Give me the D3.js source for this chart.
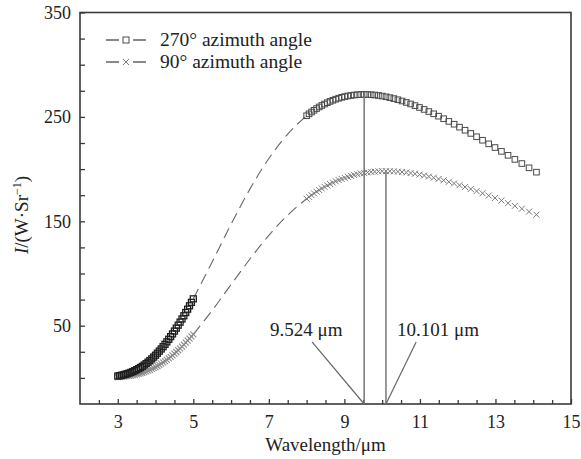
<!DOCTYPE html>
<html><head><meta charset="utf-8">
<script src="https://cdn.jsdelivr.net/npm/d3@7"></script>
<style>
body{margin:0;background:#fff}
svg{display:block}
text{font-family:"Liberation Serif","Times New Roman",serif;fill:#222}
</style>
</head><body>
<svg id="c" width="581" height="459"></svg>
<script>
// ---------- data ----------
const wlShort = [3.00,3.05,3.10,3.15,3.20,3.25,3.30,3.35,3.40,3.45,3.50,3.55,3.60,3.65,3.70,3.75,3.80,3.85,3.90,3.95,4.00,4.05,4.10,4.15,4.20,4.25,4.30,4.35,4.40,4.45,4.50,4.55,4.60,4.65,4.70,4.75,4.80,4.85,4.90,4.95,5.00];
const i270Short = [1.78,2.12,2.51,2.96,3.45,4.01,4.63,5.32,6.08,6.92,7.83,8.82,9.90,11.06,12.31,13.65,15.08,16.60,18.22,19.93,21.73,23.63,25.63,27.72,29.90,32.17,34.53,36.98,39.52,42.15,44.86,47.65,50.50,53.44,56.44,59.51,62.64,65.83,69.08,72.39,75.74];
const i90Short = [0.67,0.81,0.98,1.16,1.38,1.63,1.90,2.21,2.56,2.95,3.38,3.85,4.37,4.93,5.55,6.22,6.94,7.71,8.55,9.44,10.39,11.39,12.46,13.59,14.78,16.04,17.35,18.73,20.16,21.65,23.21,24.82,26.49,28.23,30.01,31.84,33.73,35.67,37.65,39.69,41.77];

const wlGap = [5.5,6.0,6.5,7.0,7.5];
const i270Gap = [111.1,147.2,181.0,210.1,233.6];
const i90Gap = [64.6,89.4,113.9,136.5,155.9];

const wlLong = [8.000,8.065,8.130,8.197,8.264,8.333,8.403,8.475,8.547,8.621,8.696,8.772,8.850,8.929,9.009,9.091,9.174,9.259,9.346,9.434,9.524,9.615,9.709,9.804,9.901,10.000,10.101,10.204,10.309,10.417,10.526,10.638,10.753,10.870,10.989,11.111,11.236,11.364,11.494,11.628,11.765,11.905,12.048,12.195,12.346,12.500,12.658,12.821,12.987,13.158,13.333,13.514,13.699,13.889,14.085];
const i270Long = [251.09,252.92,254.68,256.36,257.98,259.52,260.98,262.35,263.64,264.85,265.96,266.98,267.90,268.73,269.45,270.06,270.57,270.97,271.26,271.44,271.50,271.43,271.25,270.95,270.51,269.96,269.27,268.46,267.51,266.44,265.22,263.88,262.40,260.79,259.04,257.15,255.13,252.97,250.69,248.26,245.70,243.01,240.19,237.24,234.17,230.97,227.65,224.21,220.65,216.98,213.20,209.31,205.33,201.24,197.06];
const i90Long = [171.62,173.37,175.07,176.73,178.35,179.92,181.45,182.92,184.34,185.70,187.01,188.26,189.44,190.56,191.61,192.59,193.50,194.33,195.08,195.76,196.35,196.86,197.27,197.60,197.83,197.98,198.03,197.98,197.83,197.58,197.23,196.77,196.21,195.54,194.76,193.87,192.87,191.77,190.55,189.23,187.79,186.24,184.58,182.81,180.92,178.93,176.84,174.63,172.32,169.91,167.39,164.78,162.07,159.26,156.37];

const seriesNames = ["270\u00b0 azimuth angle", "90\u00b0 azimuth angle"];
const xTicks = [3,5,7,9,11,13,15];
const xMinor = [2.5,3.5,4,4.5,5.5,6,6.5,7.5,8,8.5,9.5,10,10.5,11.5,12,12.5,13.5,14,14.5];
const yTicks = [50,150,250,350];
const yMinor = [0,25,75,100,125,175,200,225,275,300,325];
const peakLabels = ["9.524 \u03bcm", "10.101 \u03bcm"];

// ---------- layout ----------
const L=80, R=571, T=12.5, B=404;
const x = d3.scaleLinear().domain([2,15]).range([L,R]);
const y = d3.scaleLinear().domain([-25,350]).range([B,T]);
const svg = d3.select('#c');
const axisCol = '#3a3a3a';

function styleAxis(g){
  g.select('.domain').remove();
  g.selectAll('.tick line').attr('stroke',axisCol).attr('stroke-width',1.3);
  g.selectAll('text').attr('font-size',18).attr('fill','#222')
   .attr('font-family','"Liberation Serif","Times New Roman",serif');
}
svg.append('g').attr('transform',`translate(0,${B})`)
  .call(d3.axisBottom(x).tickValues(xMinor).tickSize(-4).tickFormat('')).call(styleAxis);
svg.append('g').attr('transform',`translate(0,${B})`)
  .call(d3.axisBottom(x).tickValues(xTicks).tickSize(-5).tickPadding(11).tickFormat(d3.format('d'))).call(styleAxis);
svg.append('g').attr('transform',`translate(${L},0)`)
  .call(d3.axisLeft(y).tickValues(yMinor).tickSize(-5).tickFormat('')).call(styleAxis);
svg.append('g').attr('transform',`translate(${L},0)`)
  .call(d3.axisLeft(y).tickValues(yTicks).tickSize(-5).tickPadding(9).tickFormat(d3.format('d'))).call(styleAxis);

svg.append('rect').attr('x',L).attr('y',T).attr('width',R-L).attr('height',B-T)
  .attr('fill','none').attr('stroke',axisCol).attr('stroke-width',1.6);

svg.append('text').attr('x',(L+R)/2).attr('y',451).attr('text-anchor','middle')
  .attr('font-size',19).text('Wavelength/\u03bcm');
const yt = svg.append('text').attr('transform','translate(28,215) rotate(-90)')
  .attr('text-anchor','middle').attr('font-size',19);
yt.append('tspan').attr('font-style','italic').text('I');
yt.append('tspan').text('/(W\u00b7Sr');
yt.append('tspan').attr('font-size',12).attr('dy',-7).text('\u22121');
yt.append('tspan').attr('dy',7).text(')');

const series = [
  {short:i270Short, gap:i270Gap, long:i270Long, kind:'square', col:'#4a4a4a', colShort:'#1e1e1e', wShort:1.3},
  {short:i90Short,  gap:i90Gap,  long:i90Long,  kind:'cross',  col:'#7a7a7a', colShort:'#8a8a8a', wShort:1.1}
];
const lineGen = d3.line().x(d=>x(d[0])).y(d=>y(d[1])).curve(d3.curveMonotoneX);

series.forEach(s=>{
  const pts = [[wlShort[wlShort.length-1], s.short[s.short.length-1]]]
    .concat(wlGap.map((w,i)=>[w,s.gap[i]]))
    .concat([[wlLong[0], s.long[0]]]);
  svg.append('path').datum(pts).attr('d',lineGen)
    .attr('fill','none').attr('stroke','#666').attr('stroke-width',1.1)
    .attr('stroke-dasharray','11,6');
});

function drawMarkers(g, xs, ys, kind, col, sw, sz){
  const data = xs.map((w,i)=>[w,ys[i]]);
  if(kind==='square'){
    g.selectAll(null).data(data).join('rect')
      .attr('x',d=>x(d[0])-sz/2).attr('y',d=>y(d[1])-sz/2)
      .attr('width',sz).attr('height',sz)
      .attr('fill','none').attr('stroke',col).attr('stroke-width',sw);
  } else {
    g.selectAll(null).data(data).join('path')
      .attr('d',d=>{const cx=x(d[0]),cy=y(d[1]),r=sz/2;
        return `M${cx-r},${cy-r}L${cx+r},${cy+r}M${cx-r},${cy+r}L${cx+r},${cy-r}`;})
      .attr('fill','none').attr('stroke',col).attr('stroke-width',sw);
  }
}

const peaks = series.map(s=>{const k=d3.maxIndex(s.long); return [wlLong[k], s.long[k]];});

// 90° below, 270° on top
[series[1], series[0]].forEach(s=>{
  const g = svg.append('g');
  drawMarkers(g, wlShort, s.short, s.kind, s.colShort, s.wShort, 6);
  drawMarkers(g, wlLong, s.long, s.kind, s.col, 1, s.kind==='square'?5.6:6);
});

peaks.forEach(p=>{
  svg.append('line').attr('x1',x(p[0])).attr('x2',x(p[0]))
    .attr('y1',y(-25)).attr('y2',y(p[1]))
    .attr('stroke','#777').attr('stroke-width',1.5);
});

const annText = [[270,336],[397,336]];
const annFrom = [[8.143,34.4],[10.90,34.4]];
peaks.forEach((p,i)=>{
  svg.append('line').attr('x1',x(annFrom[i][0])).attr('y1',y(annFrom[i][1]))
    .attr('x2',x(p[0])).attr('y2',y(-25))
    .attr('stroke','#666').attr('stroke-width',1.2);
  svg.append('text').attr('x',annText[i][0]).attr('y',annText[i][1])
    .attr('font-size',19).text(peakLabels[i]);
});

const leg = svg.append('g');
[[40,46],[62,68]].forEach((r,i)=>{
  const s = series[i];
  leg.append('line').attr('x1',106).attr('x2',119).attr('y1',r[0]).attr('y2',r[0]).attr('stroke','#555').attr('stroke-width',1.4);
  leg.append('line').attr('x1',133).attr('x2',146).attr('y1',r[0]).attr('y2',r[0]).attr('stroke','#555').attr('stroke-width',1.4);
  const cx=126, cy=r[0];
  if(s.kind==='square'){
    leg.append('rect').attr('x',cx-3).attr('y',cy-3).attr('width',6).attr('height',6)
      .attr('fill','none').attr('stroke',s.col).attr('stroke-width',1);
  } else {
    leg.append('path').attr('d',`M${cx-3},${cy-3}L${cx+3},${cy+3}M${cx-3},${cy+3}L${cx+3},${cy-3}`)
      .attr('stroke',s.col).attr('stroke-width',1);
  }
  leg.append('text').attr('x',160).attr('y',r[1]).attr('font-size',19.5).text(seriesNames[i]);
});
</script>
</body></html>
